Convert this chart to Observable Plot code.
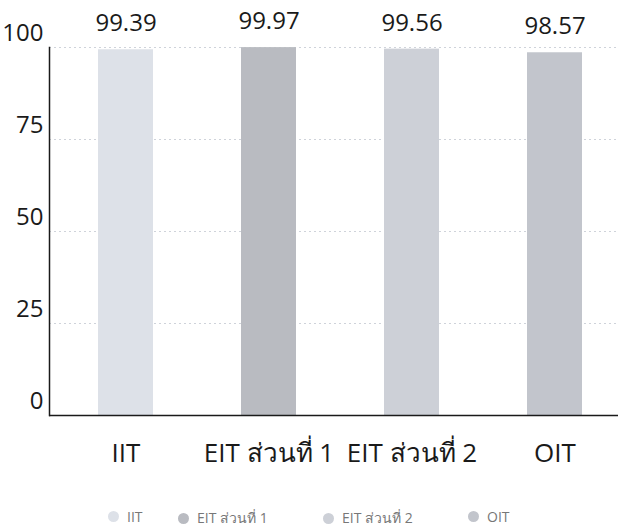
<!DOCTYPE html>
<html>
<head>
<meta charset="utf-8">
<script src="https://cdn.jsdelivr.net/npm/d3@7"></script>
<script src="https://cdn.jsdelivr.net/npm/@observablehq/plot@0.6"></script>
<style>
  html, body { margin: 0; padding: 0; background: #fff; }
  #wrap { width: 618px; height: 530px; position: relative; font-family: "Open Sans", "Noto Sans", sans-serif; }
  #legend { position: absolute; top: 507px; left: 0; width: 618px; height: 20px; font-size: 14px; color: #777; }
  .item { position: absolute; top: 0; display: flex; align-items: center; gap: 8px; white-space: nowrap; }
  .sw { width: 11px; height: 11px; border-radius: 50%; display: inline-block; }
</style>
</head>
<body>
<div id="wrap"><div id="chart"></div><div id="legend"></div></div>
<script>
const categories = ["IIT", "EIT ส่วนที่ 1", "EIT ส่วนที่ 2", "OIT"];
const values = [99.39, 99.97, 99.56, 98.57];
const colors = ["#dde1e8", "#b9bbc1", "#cdd0d7", "#c2c5cc"];
const yTicks = [0, 25, 50, 75, 100];

const data = categories.map((c, i) => ({ category: c, value: values[i] }));

const chart = Plot.plot({
  width: 618,
  height: 495,
  marginTop: 47,
  marginBottom: 80,
  marginLeft: 49,
  marginRight: 0,
  style: { fontFamily: "'Open Sans', 'Noto Sans', sans-serif", color: "#222", background: "#fff" },
  x: { domain: categories, range: [96.5, 582.7], paddingInner: 0.617, paddingOuter: 0, label: null },
  y: { domain: [0, 100], label: null },
  color: { domain: categories, range: colors },
  marks: [
    Plot.gridY(yTicks, { stroke: "#cfd3da", strokeOpacity: 1, strokeDasharray: "2,3" }),
    Plot.barY(data, { x: "category", y: "value", fill: "category" }),
    Plot.text(data, { x: "category", y: "value", text: d => d.value.toFixed(2), dy: -26, fontSize: 24, fill: "#1a1a1a" }),
    Plot.axisY(yTicks, { tickSize: 0, tickPadding: 6, fontSize: 24, dy: -14, fill: "#1a1a1a", label: null }),
    Plot.axisX({ tickSize: 0, tickPadding: 28, fontSize: 26, fill: "#1a1a1a", label: null }),
    Plot.frame({ anchor: "left", stroke: "#1a1a1a", strokeWidth: 1.5 }),
    Plot.ruleY([0], { stroke: "#1a1a1a", strokeWidth: 1.5 })
  ]
});
document.getElementById("chart").appendChild(chart);

const legendLeft = [108, 178, 323, 468];
const legend = document.getElementById("legend");
categories.forEach((c, i) => {
  const it = document.createElement("div");
  it.className = "item";
  it.style.left = legendLeft[i] + "px";
  const sw = document.createElement("span");
  sw.className = "sw";
  sw.style.background = colors[i];
  const t = document.createElement("span");
  t.textContent = c;
  it.appendChild(sw);
  it.appendChild(t);
  legend.appendChild(it);
});
</script>
</body>
</html>
